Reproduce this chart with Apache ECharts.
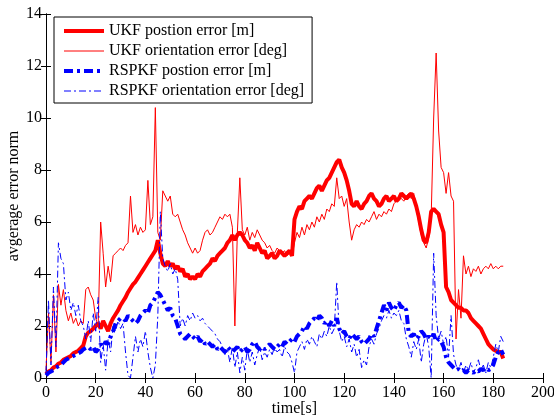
<!DOCTYPE html>
<html>
<head>
<meta charset="utf-8">
<script src="https://cdn.jsdelivr.net/npm/echarts@6/dist/echarts.min.js"></script>
<style>
html,body{margin:0;padding:0;background:#fff;}
#c{width:554px;height:419px;}
</style>
</head>
<body>
<div id="c"></div>
<script>
// time samples: one per second, t = 0 .. 184 s
const seriesNames = ['UKF postion error [m]', 'UKF orientation error [deg]', 'RSPKF postion error [m]', 'RSPKF orientation error [deg]'];
const xTicks = [0, 20, 40, 60, 80, 100, 120, 140, 160, 180, 200];
const yTicks = [0, 2, 4, 6, 8, 10, 12, 14];

const ukfPos = [
0.15,0.25,0.3,0.4,0.45,0.55,0.6,0.7,0.75,0.8,
0.85,0.95,1.0,1.05,1.15,1.25,1.6,1.75,1.8,1.9,
2.0,2.1,1.9,2.2,2.0,1.8,2.1,2.3,2.45,2.6,
2.8,2.95,3.1,3.3,3.45,3.6,3.7,3.85,4.0,4.15,
4.3,4.45,4.6,4.75,4.9,5.3,4.8,4.4,4.3,4.5,
4.3,4.4,4.2,4.3,4.1,4.2,3.9,4.0,3.8,3.9,
3.8,4.0,3.9,4.1,4.2,4.3,4.4,4.6,4.5,4.7,
4.8,4.9,5.0,5.2,5.3,5.5,5.3,5.5,5.6,5.5,
5.3,5.2,5.0,5.1,4.9,5.2,5.0,4.8,4.9,4.6,
4.7,4.8,4.6,4.7,4.9,4.8,4.7,4.8,4.9,4.7,
6.1,6.4,6.6,6.5,6.8,6.9,7.0,6.9,7.1,7.3,
7.4,7.2,7.4,7.6,7.7,7.9,8.1,8.3,8.4,8.1,
7.9,7.6,7.2,6.7,6.6,6.8,6.6,6.5,6.7,6.8,
7.0,7.1,6.9,6.8,6.6,6.7,6.9,7.0,6.8,6.9,
7.0,6.8,6.9,7.1,7.0,6.9,7.0,7.1,6.9,6.6,
6.2,5.7,5.3,5.2,5.6,6.4,6.5,6.4,6.3,5.9,
5.6,3.5,3.3,3.0,2.9,2.8,2.7,2.7,2.6,2.6,
2.5,2.3,2.2,2.1,2.0,1.9,1.7,1.5,1.3,1.2,
1.1,1.05,1.0,1.0,0.75
];

const ukfOri = [
0.3,2.5,0.6,3.2,1.0,3.6,2.8,3.4,2.6,2.2,
2.5,2.1,2.3,2.0,2.2,2.1,3.4,3.5,3.2,3.0,
2.3,2.0,6.0,4.8,3.5,4.3,3.7,4.7,4.8,4.9,
5.0,4.9,5.1,5.2,7.0,5.6,5.9,5.5,5.8,5.6,
5.7,7.6,5.9,6.2,10.4,5.6,5.3,7.2,7.0,6.8,
7.0,6.3,6.2,6.3,6.0,5.7,5.5,5.2,5.0,4.8,
5.0,4.8,4.9,5.3,5.6,5.7,5.5,5.6,5.8,6.0,
6.2,6.1,6.3,6.2,6.3,5.8,2.0,5.6,7.7,5.7,
5.5,5.8,5.3,5.6,5.4,5.7,5.5,5.3,5.2,5.0,
5.1,4.9,4.8,5.0,4.9,4.8,4.9,4.7,4.8,4.7,
5.2,5.6,5.4,5.8,5.5,5.9,5.7,6.0,5.8,6.2,
6.0,6.3,6.1,6.5,6.4,6.7,6.6,7.7,6.9,7.0,
6.6,6.9,6.0,5.3,5.7,5.9,5.8,6.0,5.9,6.1,
6.0,6.2,6.4,6.1,6.3,6.2,6.4,6.3,6.5,6.4,
6.7,6.8,7.0,6.9,6.8,7.0,7.1,6.9,7.1,6.5,
6.0,5.5,5.2,5.0,5.4,6.2,10.0,12.5,9.5,8.1,
7.9,7.1,7.9,7.0,6.8,1.5,3.4,2.3,4.7,4.0,
4.3,3.9,4.2,4.1,4.3,4.0,4.2,4.3,4.2,4.4,
4.2,4.3,4.2,4.3,4.3
];

const rspkfPos = [
0.1,0.2,0.25,0.3,0.4,0.45,0.5,0.6,0.7,0.75,
0.8,0.85,0.9,0.95,1.0,1.1,1.15,1.2,1.1,1.2,
1.0,1.1,1.3,1.2,1.4,1.3,1.6,1.8,2.1,2.2,
2.3,2.3,2.2,2.4,2.3,2.2,2.1,2.2,2.4,2.5,
2.6,2.5,2.8,2.9,3.1,3.3,3.2,3.0,2.8,2.6,
2.7,2.4,2.3,2.0,1.7,1.6,1.5,1.6,1.7,1.6,
1.5,1.6,1.4,1.5,1.3,1.4,1.3,1.2,1.3,1.1,
1.2,1.1,1.0,1.2,1.1,1.0,1.1,1.2,1.0,1.1,
1.2,1.0,1.1,1.3,1.4,1.2,1.1,1.2,1.1,1.2,
1.3,1.2,1.1,1.2,1.3,1.2,1.4,1.3,1.4,1.5,
1.4,1.6,1.7,1.8,2.0,1.9,2.1,2.2,2.3,2.2,
2.4,2.3,2.1,2.2,2.0,2.2,2.0,2.3,1.9,1.7,
1.8,1.6,1.5,1.7,1.6,1.5,1.6,1.4,1.3,1.4,
1.5,1.7,1.6,1.9,2.2,2.5,2.8,2.6,2.9,2.7,
2.6,2.8,2.9,2.7,2.8,2.6,1.7,1.6,1.7,1.5,
1.6,1.8,1.7,1.5,1.6,1.5,1.7,1.4,1.5,1.4,
1.2,0.8,0.6,0.5,0.4,0.3,0.35,0.25,0.3,0.2,
0.3,0.25,0.2,0.3,0.25,0.35,0.3,0.4,0.3,0.35,
0.5,0.8,1.0,1.1,0.9
];

const rspkfOri = [
0.2,3.0,0.5,3.5,1.2,5.2,4.6,4.4,3.0,3.3,
2.6,2.9,2.4,2.8,2.2,2.0,1.5,2.2,1.4,2.5,
1.8,3.1,0.6,1.3,0.3,1.5,1.0,2.0,1.8,2.2,
1.9,2.1,1.0,0.1,0.0,0.8,1.6,1.0,1.5,1.2,
1.8,1.0,0.4,0.0,0.5,2.4,6.4,4.6,4.3,4.1,
4.4,4.0,4.2,3.8,2.0,2.3,2.0,2.4,2.2,2.5,
2.3,2.4,2.2,2.3,2.1,2.0,1.9,1.8,1.7,1.5,
1.4,1.2,0.9,1.1,0.6,1.2,0.4,1.0,0.2,0.8,
0.3,1.1,0.6,1.0,0.5,0.9,1.2,0.7,1.0,0.8,
1.1,0.9,1.2,1.0,1.1,0.8,1.2,1.0,0.9,0.6,
0.2,1.0,1.2,1.4,1.1,1.5,1.3,1.6,1.4,1.2,
1.7,1.5,1.8,1.6,2.0,1.7,1.9,3.7,1.8,1.4,
1.6,1.2,1.5,1.0,1.3,0.8,1.1,0.4,0.7,0.5,
1.2,1.5,1.3,1.7,1.9,2.2,2.4,2.3,2.6,2.3,
2.5,2.4,2.6,2.2,2.1,1.5,1.2,0.8,1.4,1.1,
1.5,0.6,1.3,1.7,1.2,0.0,4.8,2.4,1.5,1.8,
1.3,1.6,0.8,2.4,0.9,0.5,0.3,0.6,0.2,0.5,
0.3,0.6,0.2,0.4,0.7,0.3,0.5,0.2,0.6,0.4,
0.8,1.3,1.0,1.6,1.4
];

const FONT = '"Liberation Serif", "Times New Roman", "DejaVu Serif", serif';
const toPairs = arr => arr.map((v, i) => [i, v]);

const chart = echarts.init(document.getElementById('c'), null, {renderer: 'canvas'});

const dashThick = [9, 4, 3, 4];
const dashThin = [7, 3, 2, 3];

const axisCommon = {
  type: 'value',
  axisLine: {show: true, lineStyle: {color: '#000', width: 1}},
  axisTick: {show: true, inside: true, length: 5, lineStyle: {color: '#000', width: 1}},
  splitLine: {show: false},
};

chart.setOption({
  animation: false,
  backgroundColor: '#fff',
  textStyle: {fontFamily: FONT},
  grid: {left: 46, right: 11, top: 14, bottom: 41, show: false, containLabel: false, outerBoundsMode: 'none'},
  xAxis: [
    Object.assign({}, axisCommon, {
      position: 'bottom', min: xTicks[0], max: xTicks[xTicks.length - 1], interval: 20,
      axisLabel: {color: '#000', fontFamily: FONT, fontSize: 16, margin: 7},
      name: 'time[s]', nameLocation: 'middle', nameGap: 23, nameMoveOverlap: false,
      nameTextStyle: {color: '#000', fontFamily: FONT, fontSize: 16}
    }),
    Object.assign({}, axisCommon, {
      position: 'top', min: xTicks[0], max: xTicks[xTicks.length - 1], interval: 20,
      axisLabel: {show: false}
    })
  ],
  yAxis: [
    Object.assign({}, axisCommon, {
      position: 'left', min: yTicks[0], max: yTicks[yTicks.length - 1], interval: 2,
      axisLabel: {color: '#000', fontFamily: FONT, fontSize: 16, margin: 4},
      name: 'avgerage error norm', nameLocation: 'middle', nameGap: 24, nameRotate: 90, nameMoveOverlap: false,
      nameTextStyle: {color: '#000', fontFamily: FONT, fontSize: 16}
    }),
    Object.assign({}, axisCommon, {
      position: 'right', min: yTicks[0], max: yTicks[yTicks.length - 1], interval: 2,
      axisLabel: {show: false}
    })
  ],
  legend: {
    orient: 'vertical',
    left: 54, top: 17,
    padding: [6, 8, 4, 8],
    itemGap: 4,
    itemWidth: 40, itemHeight: 14,
    borderColor: '#000', borderWidth: 1,
    backgroundColor: '#fff',
    selectedMode: false,
    itemStyle: {opacity: 0},
    textStyle: {color: '#000', fontFamily: FONT, fontSize: 16, lineHeight: 16},
    data: [
      {name: seriesNames[0], itemStyle: {opacity: 0}, lineStyle: {width: 4, type: 'solid', color: '#ff0000', opacity: 1}},
      {name: seriesNames[1], itemStyle: {opacity: 0}, lineStyle: {width: 1, type: 'solid', color: '#ff0000', opacity: 1}},
      {name: seriesNames[2], itemStyle: {opacity: 0}, lineStyle: {width: 4, type: dashThick, color: '#0000ff', opacity: 1}},
      {name: seriesNames[3], itemStyle: {opacity: 0}, lineStyle: {width: 1, type: dashThin, color: '#0000ff', opacity: 1}}
    ]
  },
  series: [
    {name: seriesNames[0], type: 'line', data: toPairs(ukfPos), symbol: 'none', z: 2,
     lineStyle: {color: '#ff0000', width: 4}, itemStyle: {color: '#ff0000'}},
    {name: seriesNames[1], type: 'line', data: toPairs(ukfOri), symbol: 'none', z: 2,
     lineStyle: {color: '#ff0000', width: 1}, itemStyle: {color: '#ff0000'}},
    {name: seriesNames[2], type: 'line', data: toPairs(rspkfPos), symbol: 'none', z: 2,
     lineStyle: {color: '#0000ff', width: 4, type: dashThick}, itemStyle: {color: '#0000ff'}},
    {name: seriesNames[3], type: 'line', data: toPairs(rspkfOri), symbol: 'none', z: 2,
     lineStyle: {color: '#0000ff', width: 1, type: dashThin}, itemStyle: {color: '#0000ff'}}
  ]
});
</script>
</body>
</html>
